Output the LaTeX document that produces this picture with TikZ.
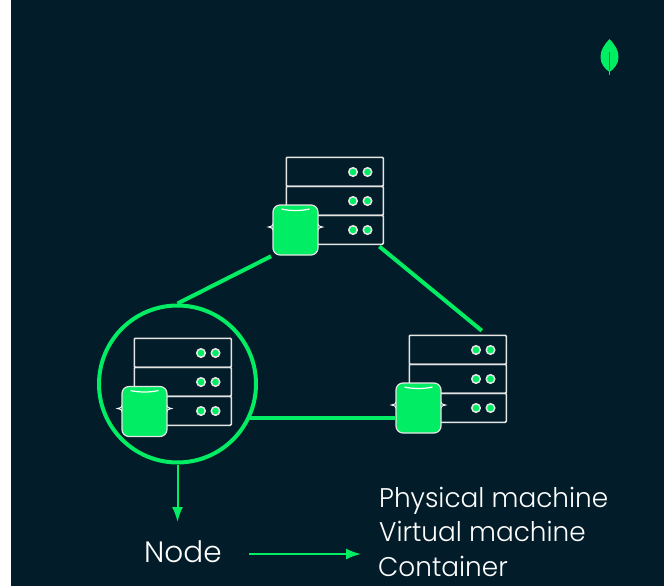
\documentclass[tikz,border=0pt]{standalone}
\usepackage{fontspec}
\setmainfont{Poppins Light}
\usetikzlibrary{arrows.meta, positioning}
\definecolor{bgdark}{HTML}{021D29}
\definecolor{leafgreen}{HTML}{00ED64}
\tikzset{
  rackrow/.style={draw=white!90!black, line width=1.6pt, rectangle, rounded corners=1pt, minimum width=97pt, minimum height=29pt, inner sep=0pt},
  rackbox/.style={rectangle, minimum width=98pt, minimum height=88pt, inner sep=0pt},
  led/.style={circle, draw=white!90!black, fill=leafgreen, line width=1.5pt, minimum size=8.5pt, inner sep=0pt},
  pod/.style={rectangle, rounded corners=7pt, draw=white!90!black, fill=leafgreen, line width=1.2pt, minimum width=45pt, minimum height=50pt, inner sep=0pt},
  link/.style={draw=leafgreen, line width=4pt},
  pointer/.style={draw=leafgreen, line width=2pt, -{Latex[length=15pt,width=11pt]}},
  caption/.style={font=\fontsize{27}{27}\selectfont\color{white}, inner sep=0pt, anchor=base west},
}
\begin{document}
\begin{tikzpicture}[x=1pt, y=-1pt]
\useasboundingbox (0,0) rectangle (664,586);

\fill [white]  (0,0)  rectangle (11,586);
\fill [bgdark] (11,0) rectangle (664,586);

% leaf
\fill [leafgreen] (609.5,39) .. controls (604,45) and (600.5,50) .. (600.5,57) .. controls (600.5,64) and (605,69) .. (609.5,72) .. controls (614,69) and (618.5,64) .. (618.5,57) .. controls (618.5,50) and (615,45) .. (609.5,39) -- cycle;
\draw [leafgreen!60!black, line width=0.8pt] (609.5,52) -- (609.5,70);
\draw [leafgreen, line width=1pt] (609.5,70) -- (609.5,75);

% racks
\foreach \name/\x/\y in {Top/285.5/156.5, Left/133.5/337.5, Right/408.5/334.5} {
  \node [rackbox, anchor=north west] (rack\name) at (\x,\y) {};
  \foreach \row in {0,1,2} {
    \node [rackrow, anchor=north west] (row\name\row) at (\x,\y+\row*29) {};
    \node [led] at (\x+67.5,\y+15.5+\row*29) {};
    \node [led] at (\x+82,\y+15.5+\row*29) {};
  }
}

% containers
\foreach \name/\x/\y in {Top/295.5/230, Left/144.5/411.5, Right/418.5/408} {
  \draw [white, line width=1pt] (\x-22,\y-7) .. controls (\x-23,\y-4) .. (\x-27,\y-3) .. controls (\x-23,\y-2) .. (\x-22,\y+1);
  \draw [white, line width=1pt] (\x+22,\y-7) .. controls (\x+23,\y-4) .. (\x+27,\y-3) .. controls (\x+23,\y-2) .. (\x+22,\y+1);
  \node [pod] (pod\name) at (\x,\y) {};
  \draw [white, line width=1.2pt] (\x-14,\y-21) .. controls (\x-6,\y-19) and (\x+6,\y-19) .. (\x+14,\y-21);
}

\node [circle, draw=leafgreen, line width=4pt, minimum size=157pt, inner sep=0pt] (zoom) at (177.5,384) {};

\draw [link, shorten <=1.5pt] (podTop.south west) -- (zoom.north);
\draw [link, shorten <=2.5pt, shorten >=6pt] (rackTop.-46) -- (rackRight.57);
\draw [link] (zoom.-25.5) -- (zoom.-25.5 -| podRight.west);

\node [caption, font=\fontsize{29.5}{29.5}\selectfont\color{white}] (node) at (144,562.5) {Node};
\node [caption, xscale=0.975] (phys) at (379,507.5) {Physical machine};
\node [caption, xscale=0.975] (virt) at (379,541.5) {Virtual machine};
\node [caption, xscale=0.975] (cont) at (378,576) {Container};

\coordinate (listin) at (361,554);
\draw [pointer] (zoom.south) -- (zoom.south |- 0,522);
\draw [pointer] (249,554) -- (listin);
\end{tikzpicture}
\end{document}
